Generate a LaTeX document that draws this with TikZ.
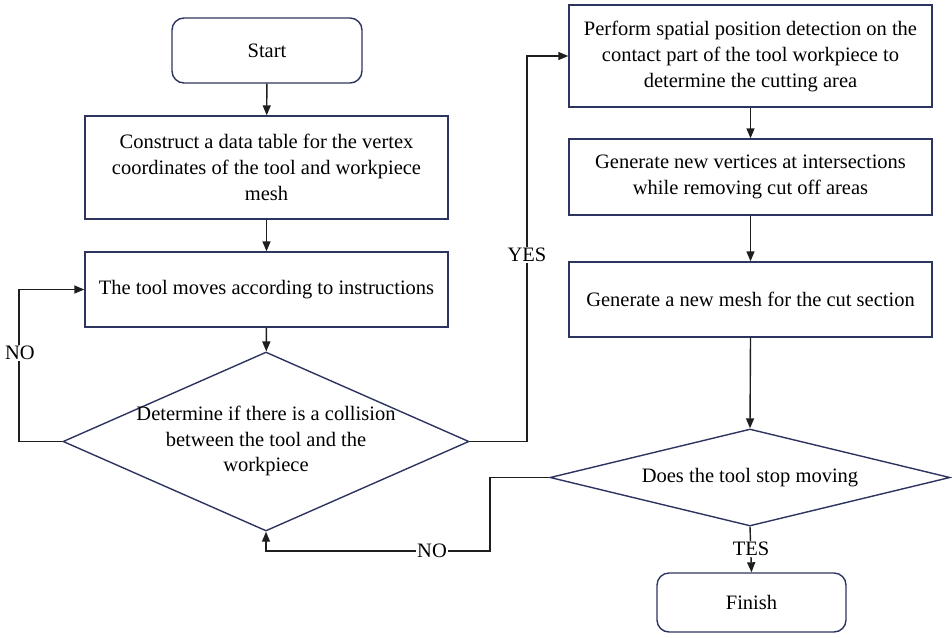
\documentclass[tikz,border=0pt]{standalone}
\usepackage{fontspec}
\setmainfont{Liberation Serif}
\usetikzlibrary{shapes.geometric,arrows.meta}
\definecolor{edgeblue}{RGB}{46,52,96}
\definecolor{linegray}{RGB}{30,30,30}
\tikzset{
  base/.style={draw=edgeblue, line width=1.4pt, inner sep=0pt, align=center,
    font=\fontsize{20.5}{26}\selectfont},
  terminal/.style={base, rectangle, rounded corners=12pt},
  process/.style={base, rectangle},
  decision/.style={base, diamond},
  txt/.style={inner sep=0pt, align=center, font=\fontsize{20.5}{25.5}\selectfont},
  flow/.style={draw=linegray, line width=1.4pt, -{Triangle[length=10pt,width=8pt]}},
  tag/.style={fill=white, inner sep=1pt, font=\fontsize{20.5}{22}\selectfont},
}
\begin{document}
\begin{tikzpicture}[x=1pt, y=-1pt]
\useasboundingbox (0,0) rectangle (952,637);

% left column
\node[terminal, minimum width=190pt, minimum height=65pt] (start) at (267,50.5) {Start};
\node[process, minimum width=363pt, minimum height=103pt] (table) at (266.5,167.5)
  {Construct a data table for the vertex\\coordinates of the tool and workpiece\\mesh};
\node[process, minimum width=363pt, minimum height=75pt] (move) at (266.5,289.5)
  {The tool moves according to instructions};
\node[decision, minimum width=406pt, minimum height=179pt] (hit) at (266,441.5) {};
\node[txt] (hittext) at (266,441)
  {Determine if there is a collision\\between the tool and the\\workpiece};

% right column
\node[process, minimum width=363pt, minimum height=102pt] (detect) at (750.5,56)
  {Perform spatial position detection on the\\contact part of the tool workpiece to\\determine the cutting area};
\node[process, minimum width=363pt, minimum height=76pt] (vertices) at (750.5,177)
  {Generate new vertices at intersections\\while removing cut off areas};
\node[process, minimum width=363pt, minimum height=75pt] (remesh) at (750.5,299.5)
  {Generate a new mesh for the cut section};
\node[decision, minimum width=400pt, minimum height=97pt] (stop) at (750,477.5) {};
\node[txt] (stoptext) at (750,478) {Does the tool stop moving};
\node[terminal, minimum width=189pt, minimum height=59pt] (finish) at (751.5,602.5) {Finish};

% bend points of the loops
\coordinate (noleft) at (19,441.5);
\coordinate (yesup) at (527,441.5);
\coordinate (nodown) at (490,551);

% straight flow
\draw[flow] (start) -- (table);
\draw[flow] (table) -- (move);
\draw[flow] (move) -- (hit);
\draw[flow] (detect) -- (vertices);
\draw[flow] (vertices) -- (remesh);
\draw[flow] (remesh.south) -- (stop.north);
\draw[flow] (stop.south) -- (finish.north);

% loops
\draw[flow] (hit.west) -- (noleft) |- (move.west);
\draw[flow] (hit.east) -- (yesup) |- (detect.west);
\draw[flow] (stop.west) -| (nodown) -| (hit.south);

% branch labels
\node[tag] (lno) at (20,353) {NO};
\node[tag] (lyes) at (527,255) {YES};
\node[tag] (lno2) at (432,551) {NO};
\node[tag] (ltes) at (751,549) {TES};
\end{tikzpicture}
\end{document}
